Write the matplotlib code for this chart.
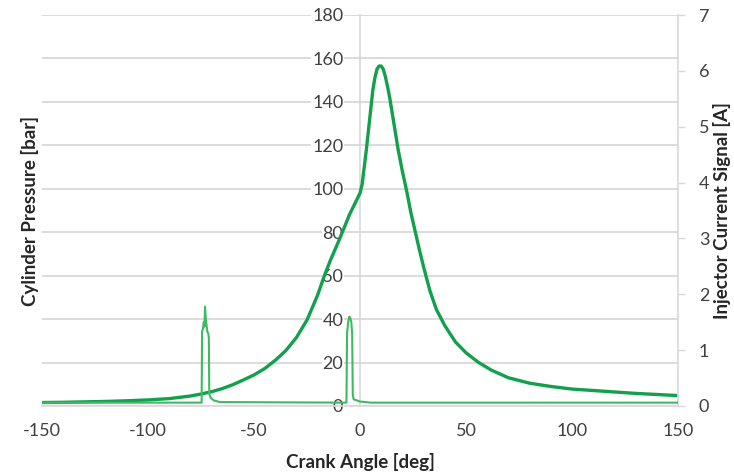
import matplotlib
matplotlib.use("Agg")
import matplotlib.pyplot as plt

plt.rcParams['font.family'] = ['Lato', 'DejaVu Sans']
plt.rcParams['axes.unicode_minus'] = False

# cylinder pressure [bar] vs crank angle [deg]
p_angle = [-150, -140, -130, -120, -110, -100, -90, -80, -75, -70, -65, -60,
           -55, -50, -45, -40, -35, -30, -25, -20, -17, -14, -10, -5, -2, 0,
           1, 2, 3, 4, 5, 6, 7, 8, 9, 10, 11, 12, 13, 14, 15, 16, 17, 18, 19,
           20, 22, 24, 26, 28, 30, 33, 36, 40, 45, 50, 56, 62, 70, 80, 90,
           100, 115, 130, 150]
p_bar = [1.6, 1.7, 1.9, 2.1, 2.4, 2.8, 3.4, 4.6, 5.5, 6.6, 8.0, 9.8,
         12.0, 14.3, 17.2, 21.0, 25.5, 31.5, 39.6, 51.0, 59.5, 67.0, 76.0, 88.0, 94.0, 98.0,
         102, 110, 118, 127, 136, 145, 151, 155, 156.5, 156.5, 155, 151.5, 147, 142, 136, 130, 124, 118, 113,
         108, 99, 89, 80.5, 72, 64, 53, 44.5, 37, 29.5, 24.5, 20, 16.5, 13, 10.5, 9,
         7.8, 6.8, 5.8, 4.8]

# injector current signal [A]
i_angle = [-150, -74.7, -74.5, -74.1, -73.7, -73.4, -73.1, -72.8, -72.4, -72.0, -71.6, -71.3,
           -71.1, -70.5, -69.0, -66.0, -6.4, -6.1, -5.6, -5.0, -4.6, -4.1, -3.7, -3.4,
           -3.0, 0.0, 5.0, 150]
i_amp = [0.06, 0.06, 1.33, 1.38, 1.5, 1.42, 1.78, 1.6, 1.45, 1.33, 1.3, 1.22,
         0.22, 0.15, 0.1, 0.07, 0.06, 1.3, 1.5, 1.6, 1.58, 1.5, 1.3, 0.2,
         0.12, 0.08, 0.06, 0.06]

grid_col = '#d9d9d9'
text_col = '#404040'

fig = plt.figure(figsize=(7.34, 4.74), dpi=100)
ax = fig.add_axes([42 / 734, 1 - 406 / 474, 636 / 734, 391 / 474])
ax2 = ax.twinx()

ax.plot(p_angle, p_bar, color='#13a04c', lw=2.4, zorder=3, solid_capstyle='round')
ax2.plot(i_angle, i_amp, color='#3dba63', lw=1.5, zorder=3)

ax.set_xlim(-150, 150)
ax.set_ylim(0, 180)
ax2.set_ylim(0, 7)
ax.set_xticks(range(-150, 151, 50))
ax.set_yticks(range(0, 181, 20))
ax2.set_yticks(range(0, 8))

ax.set_axisbelow(True)
ax.grid(axis='y', color=grid_col, lw=1.3)
ax.grid(axis='x', visible=False)

ax.spines['top'].set_visible(False)
ax2.spines['top'].set_visible(False)
ax.spines['right'].set_visible(False)
ax2.spines['left'].set_visible(False)
ax2.spines['bottom'].set_visible(False)
ax.spines['left'].set_position(('data', 0))
ax.spines['left'].set_color(grid_col)
ax.spines['bottom'].set_color(grid_col)
ax2.spines['right'].set_color(grid_col)
for s in ['left', 'bottom']:
    ax.spines[s].set_linewidth(1.2)
ax2.spines['right'].set_linewidth(1.2)

ax.tick_params(axis='x', length=0, pad=12, labelsize=13, labelcolor=text_col)
ax.tick_params(axis='y', length=0, pad=12, labelsize=13, labelcolor=text_col)
ax2.tick_params(axis='y', length=5, width=1, color=grid_col, pad=10,
                labelsize=13, labelcolor=text_col)
for lab in ax.get_yticklabels():
    lab.set_bbox(dict(facecolor='white', edgecolor='none', pad=0.5))

ax.set_xlabel('Crank Angle [deg]', fontsize=13.5, fontweight='bold', color='#262626')
ax.xaxis.set_label_coords(0.5, -0.12)
ax.set_ylabel('Cylinder Pressure [bar]', fontsize=13.5, fontweight='bold', color='#262626')
ax.yaxis.set_label_coords(-0.005, 0.5)
ax2.set_ylabel('Injector Current Signal [A]', fontsize=13.5, fontweight='bold', color='#262626')
ax2.yaxis.set_label_coords(1.055, 0.5)

fig.savefig('out.png', dpi=100)
